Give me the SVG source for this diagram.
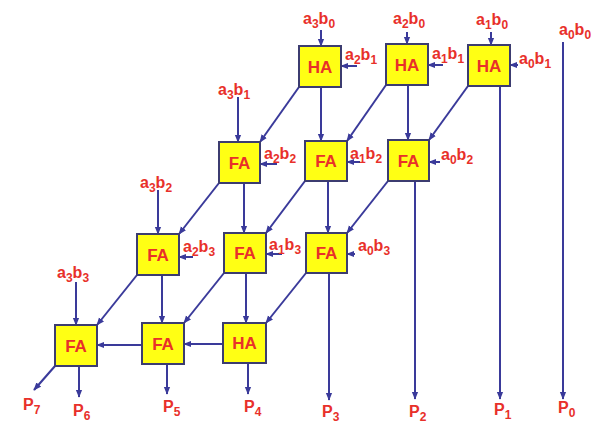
<svg xmlns="http://www.w3.org/2000/svg" width="596" height="427" viewBox="0 0 596 427">
<style>
.box{fill:#ffff14;stroke:#3c3c70;stroke-width:2}
.bt{font-family:"Liberation Sans",Arial,sans-serif;font-weight:bold;font-size:17px;fill:#e8302a;text-anchor:middle}
.lb{font-family:"Liberation Sans",Arial,sans-serif;font-weight:bold;font-size:16px;fill:#e8302a}
.s{font-size:12px}
.c line{stroke:#3a3a9a;stroke-width:2;marker-end:url(#ah)}
</style>
<defs>
<marker id="ah" viewBox="0 0 10 10" refX="9" refY="5" markerWidth="8" markerHeight="8" markerUnits="userSpaceOnUse" orient="auto"><path d="M0,1 L10,5 L0,9 z" fill="#3a3a9a"/></marker>
</defs>
<rect width="596" height="427" fill="#ffffff"/>
<g class="c" id="connectors">
<!-- top inputs -->
<line x1="321" y1="30" x2="321" y2="46"/>
<line x1="407" y1="32" x2="407" y2="44"/>
<line x1="491" y1="32" x2="491" y2="45"/>
<line x1="238" y1="97" x2="238" y2="142"/>
<line x1="158" y1="190" x2="158" y2="234"/>
<line x1="76" y1="282" x2="76" y2="325"/>
<!-- side inputs -->
<line x1="357" y1="66" x2="341" y2="66"/>
<line x1="443" y1="65" x2="428" y2="65"/>
<line x1="518" y1="65" x2="510" y2="65"/>
<line x1="277" y1="164" x2="260" y2="164"/>
<line x1="360" y1="162" x2="347" y2="162"/>
<line x1="440" y1="162" x2="429" y2="162"/>
<line x1="193" y1="257" x2="179" y2="257"/>
<line x1="282" y1="254" x2="266" y2="254"/>
<line x1="355" y1="254" x2="347" y2="254"/>
<!-- verticals -->
<line x1="321" y1="87" x2="321" y2="141"/>
<line x1="408" y1="85" x2="408" y2="140"/>
<line x1="500" y1="86" x2="500" y2="399"/>
<line x1="244" y1="183" x2="244" y2="233"/>
<line x1="328" y1="181" x2="328" y2="233"/>
<line x1="415" y1="181" x2="415" y2="399"/>
<line x1="162" y1="275" x2="162" y2="323"/>
<line x1="246" y1="273" x2="246" y2="323"/>
<line x1="329" y1="273" x2="329" y2="400"/>
<line x1="563" y1="42" x2="563" y2="399"/>
<!-- diagonals -->
<line x1="299" y1="87" x2="260" y2="142"/>
<line x1="386" y1="85" x2="347" y2="141"/>
<line x1="468" y1="86" x2="429" y2="140"/>
<line x1="219" y1="183" x2="179" y2="234"/>
<line x1="305" y1="181" x2="266" y2="233"/>
<line x1="388" y1="181" x2="347" y2="233"/>
<line x1="137" y1="275" x2="97" y2="325"/>
<line x1="224" y1="273" x2="184" y2="323"/>
<line x1="306" y1="273" x2="266" y2="323"/>
<!-- bottom row -->
<line x1="223" y1="344" x2="184" y2="344"/>
<line x1="142" y1="345" x2="97" y2="345"/>
<line x1="55" y1="366" x2="34" y2="390"/>
<line x1="79" y1="366" x2="79" y2="397"/>
<line x1="167" y1="364" x2="167" y2="394"/>
<line x1="248" y1="363" x2="248" y2="394"/>
</g>
<g id="ha1"><rect class="box" x="299" y="46" width="42" height="41"/><text class="bt" x="320" y="73">HA</text></g>
<g id="ha2"><rect class="box" x="386" y="44" width="42" height="41"/><text class="bt" x="407" y="71">HA</text></g>
<g id="ha3"><rect class="box" x="468" y="45" width="42" height="41"/><text class="bt" x="489" y="72">HA</text></g>
<g id="fa21"><rect class="box" x="219" y="142" width="41" height="41"/><text class="bt" x="239.5" y="169">FA</text></g>
<g id="fa22"><rect class="box" x="305" y="141" width="42" height="40"/><text class="bt" x="326" y="167">FA</text></g>
<g id="fa23"><rect class="box" x="388" y="140" width="41" height="41"/><text class="bt" x="408.5" y="167">FA</text></g>
<g id="fa31"><rect class="box" x="137" y="234" width="42" height="41"/><text class="bt" x="158" y="261">FA</text></g>
<g id="fa32"><rect class="box" x="224" y="233" width="42" height="40"/><text class="bt" x="245" y="259">FA</text></g>
<g id="fa33"><rect class="box" x="306" y="233" width="41" height="40"/><text class="bt" x="326.5" y="259">FA</text></g>
<g id="fa41"><rect class="box" x="55" y="325" width="42" height="41"/><text class="bt" x="76" y="352">FA</text></g>
<g id="fa42"><rect class="box" x="142" y="323" width="42" height="41"/><text class="bt" x="163" y="350">FA</text></g>
<g id="ha4"><rect class="box" x="223" y="323" width="43" height="40"/><text class="bt" x="244.5" y="349">HA</text></g>
<g id="labels">
<text class="lb" x="303" y="24">a<tspan class="s" dy="4">3</tspan><tspan dy="-4">b</tspan><tspan class="s" dy="4">0</tspan></text>
<text class="lb" x="393" y="24">a<tspan class="s" dy="4">2</tspan><tspan dy="-4">b</tspan><tspan class="s" dy="4">0</tspan></text>
<text class="lb" x="476" y="25">a<tspan class="s" dy="4">1</tspan><tspan dy="-4">b</tspan><tspan class="s" dy="4">0</tspan></text>
<text class="lb" x="559" y="35">a<tspan class="s" dy="4">0</tspan><tspan dy="-4">b</tspan><tspan class="s" dy="4">0</tspan></text>
<text class="lb" x="345" y="60">a<tspan class="s" dy="4">2</tspan><tspan dy="-4">b</tspan><tspan class="s" dy="4">1</tspan></text>
<text class="lb" x="432" y="59">a<tspan class="s" dy="4">1</tspan><tspan dy="-4">b</tspan><tspan class="s" dy="4">1</tspan></text>
<text class="lb" x="519" y="64">a<tspan class="s" dy="4">0</tspan><tspan dy="-4">b</tspan><tspan class="s" dy="4">1</tspan></text>
<text class="lb" x="218" y="95">a<tspan class="s" dy="4">3</tspan><tspan dy="-4">b</tspan><tspan class="s" dy="4">1</tspan></text>
<text class="lb" x="264" y="159">a<tspan class="s" dy="4">2</tspan><tspan dy="-4">b</tspan><tspan class="s" dy="4">2</tspan></text>
<text class="lb" x="350" y="159">a<tspan class="s" dy="4">1</tspan><tspan dy="-4">b</tspan><tspan class="s" dy="4">2</tspan></text>
<text class="lb" x="441" y="160">a<tspan class="s" dy="4">0</tspan><tspan dy="-4">b</tspan><tspan class="s" dy="4">2</tspan></text>
<text class="lb" x="140" y="188">a<tspan class="s" dy="4">3</tspan><tspan dy="-4">b</tspan><tspan class="s" dy="4">2</tspan></text>
<text class="lb" x="183" y="252">a<tspan class="s" dy="4">2</tspan><tspan dy="-4">b</tspan><tspan class="s" dy="4">3</tspan></text>
<text class="lb" x="269" y="250">a<tspan class="s" dy="4">1</tspan><tspan dy="-4">b</tspan><tspan class="s" dy="4">3</tspan></text>
<text class="lb" x="358" y="251">a<tspan class="s" dy="4">0</tspan><tspan dy="-4">b</tspan><tspan class="s" dy="4">3</tspan></text>
<text class="lb" x="57" y="278">a<tspan class="s" dy="4">3</tspan><tspan dy="-4">b</tspan><tspan class="s" dy="4">3</tspan></text>
<text class="lb" x="23" y="410">P<tspan class="s" dy="4">7</tspan></text>
<text class="lb" x="73" y="416">P<tspan class="s" dy="4">6</tspan></text>
<text class="lb" x="163" y="412">P<tspan class="s" dy="4">5</tspan></text>
<text class="lb" x="244" y="412">P<tspan class="s" dy="4">4</tspan></text>
<text class="lb" x="322" y="417">P<tspan class="s" dy="4">3</tspan></text>
<text class="lb" x="409" y="417">P<tspan class="s" dy="4">2</tspan></text>
<text class="lb" x="494" y="415">P<tspan class="s" dy="4">1</tspan></text>
<text class="lb" x="558" y="413">P<tspan class="s" dy="4">0</tspan></text>
</g>
</svg>
